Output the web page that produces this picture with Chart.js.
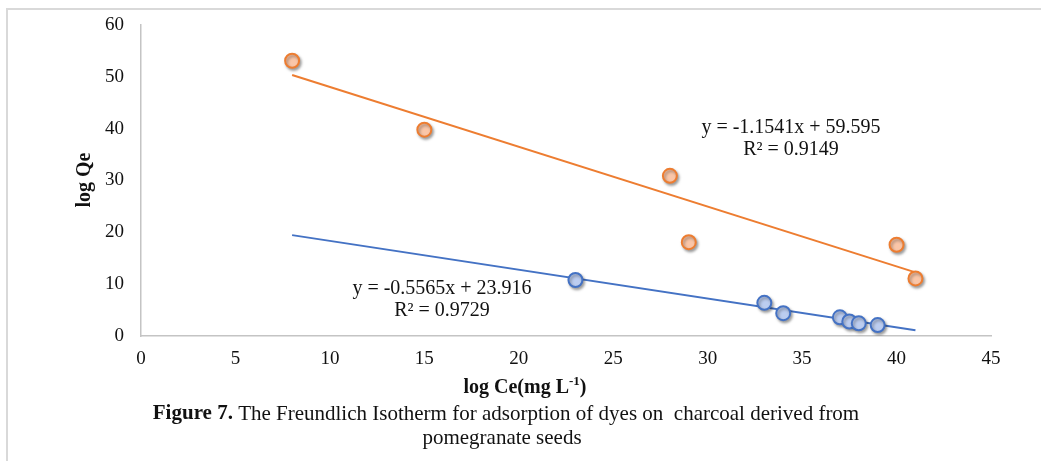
<!DOCTYPE html>
<html>
<head>
<meta charset="utf-8">
<script src="https://cdn.jsdelivr.net/npm/chart.js@4.4.1/dist/chart.umd.min.js"></script>
<style>
  body { margin: 0; background: #fff; }
  canvas { display: block; }
</style>
</head>
<body>
<canvas id="isoChart" width="1041" height="461"></canvas>
<script>
// data
const orangeX = [8, 15, 28, 29, 40, 41];
const orangeY = [53.1, 39.8, 30.9, 18.1, 17.6, 11.1];
const blueX = [23, 33, 34, 37, 37.5, 38, 39];
const blueY = [10.8, 6.4, 4.4, 3.6, 2.8, 2.45, 2.1];

// linear trendlines, end points
const trendX = [8, 41];
const orangeTrendY = [50.36, 12.28];
const blueTrendY = [19.46, 1.10];

const orangeEq = ["y = -1.1541x + 59.595", "R² = 0.9149"];
const blueEq = ["y = -0.5565x + 23.916", "R² = 0.9729"];
const captionLines = ["The Freundlich Isotherm for adsorption of dyes on  charcoal derived from", "pomegranate seeds"];

const toPts = (xs, ys) => xs.map((x, i) => ({ x, y: ys[i] }));

const SERIF = "'Liberation Serif', 'Times New Roman', serif";

// shadow under the markers
const shadowPlugin = {
  id: "markerShadow",
  beforeDatasetDraw(chart, args) {
    const ds = chart.data.datasets[args.index];
    chart.ctx.save();
    if (ds.type === "scatter") {
      chart.ctx.shadowColor = "rgba(0,0,0,0.35)";
      chart.ctx.shadowBlur = 3;
      chart.ctx.shadowOffsetX = 1.5;
      chart.ctx.shadowOffsetY = 2;
    }
  },
  afterDatasetDraw(chart) {
    chart.ctx.restore();
  }
};

// frame, titles, equations, caption
const textPlugin = {
  id: "texts",
  afterDraw(chart) {
    const c = chart.ctx;
    c.save();
    // outer frame (top + left)
    c.strokeStyle = "#d9d9d9";
    c.lineWidth = 2;
    c.beginPath();
    c.moveTo(7, 461);
    c.lineTo(7, 9);
    c.lineTo(1041, 9);
    c.stroke();

    c.fillStyle = "#111";
    c.textAlign = "center";
    c.textBaseline = "middle";

    // equations
    c.font = "20px " + SERIF;
    c.fillText(orangeEq[0], 791, 128);
    c.fillText(orangeEq[1], 791, 150);
    c.fillText(blueEq[0], 442, 289);
    c.fillText(blueEq[1], 442, 311);

    // y title
    c.save();
    c.translate(85, 180);
    c.rotate(-Math.PI / 2);
    c.font = "bold 20px " + SERIF;
    c.fillText("log Qe", 0, 0);
    c.restore();

    // x title with superscript
    c.textAlign = "left";
    const base = "log Ce(mg L";
    const sup = "-1";
    const tail = ")";
    c.font = "bold 20px " + SERIF;
    const wBase = c.measureText(base).width;
    const wTail = c.measureText(tail).width;
    c.font = "bold 13px " + SERIF;
    const wSup = c.measureText(sup).width;
    let x0 = 525 - (wBase + wSup + wTail) / 2;
    c.font = "bold 20px " + SERIF;
    c.fillText(base, x0, 388);
    c.font = "bold 13px " + SERIF;
    c.fillText(sup, x0 + wBase, 382);
    c.font = "bold 20px " + SERIF;
    c.fillText(tail, x0 + wBase + wSup, 388);

    // caption
    c.font = "bold 21px " + SERIF;
    const fig = "Figure 7. ";
    const wFig = c.measureText(fig).width;
    c.font = "21px " + SERIF;
    const wCap = c.measureText(captionLines[0]).width;
    x0 = 506 - (wFig + wCap) / 2;
    c.font = "bold 21px " + SERIF;
    c.fillText(fig, x0, 414);
    c.font = "21px " + SERIF;
    c.fillText(captionLines[0], x0 + wFig, 414);
    c.textAlign = "center";
    c.fillText(captionLines[1], 502, 438);
    c.restore();
  }
};

new Chart(document.getElementById("isoChart").getContext("2d"), {
  data: {
    datasets: [
      {
        type: "scatter",
        label: "dye 1",
        data: toPts(orangeX, orangeY),
        pointRadius: 7,
        borderWidth: 2,
        borderColor: "#ed7d31",
        backgroundColor: "#fac6a8",
        order: 1
      },
      {
        type: "scatter",
        label: "dye 2",
        data: toPts(blueX, blueY),
        pointRadius: 7,
        borderWidth: 2,
        borderColor: "#4472c4",
        backgroundColor: "#bccdf0",
        order: 1
      },
      {
        type: "line",
        label: "trend 1",
        data: toPts(trendX, orangeTrendY),
        borderColor: "#ed7d31",
        borderWidth: 2,
        pointRadius: 0,
        order: 2
      },
      {
        type: "line",
        label: "trend 2",
        data: toPts(trendX, blueTrendY),
        borderColor: "#4472c4",
        borderWidth: 2,
        pointRadius: 0,
        order: 2
      }
    ]
  },
  options: {
    responsive: false,
    animation: false,
    layout: { padding: { left: 0, right: 50, top: 25, bottom: 0 } },
    plugins: {
      legend: { display: false },
      tooltip: { enabled: false }
    },
    scales: {
      x: {
        type: "linear",
        min: 0,
        max: 45,
        ticks: { stepSize: 5, padding: 12, color: "#111", font: { family: SERIF, size: 19 } },
        grid: { display: false, drawTicks: false },
        border: { display: true, color: "#c4c4c4", width: 1.5 },
        afterFit(scale) { scale.height = 125; }
      },
      y: {
        type: "linear",
        min: 0,
        max: 60,
        ticks: { stepSize: 10, padding: 17, color: "#111", font: { family: SERIF, size: 19 } },
        grid: { display: false, drawTicks: false },
        border: { display: true, color: "#c4c4c4", width: 1.5 },
        afterFit(scale) {
          scale.width = 141;
          scale.paddingTop = 0;
          scale.paddingBottom = 0;
        }
      }
    }
  },
  plugins: [shadowPlugin, textPlugin]
});
</script>
</body>
</html>
